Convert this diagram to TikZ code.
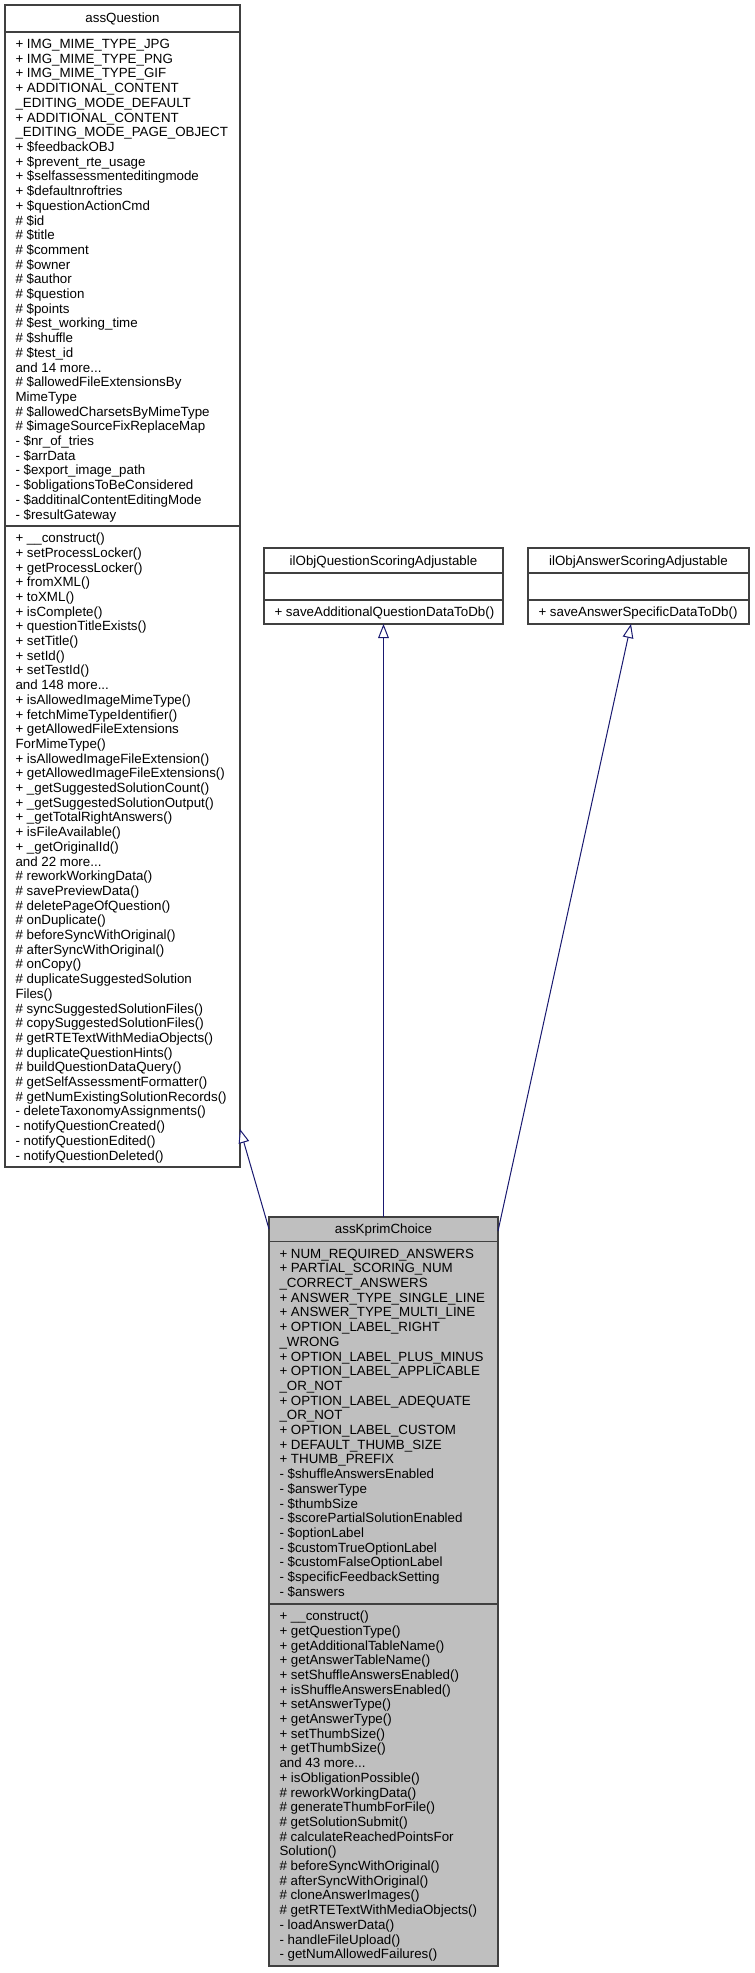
\documentclass[tikz,border=0pt]{standalone}
\usepackage{fontspec}
\setmainfont{Liberation Sans}
\usetikzlibrary{arrows.meta,calc}
\definecolor{edgeblue}{HTML}{191970}
\definecolor{boxline}{HTML}{404040}
\definecolor{kpfill}{HTML}{BFBFBF}
\newcommand\mydots{...}
\tikzset{
  umlbox/.style={draw=boxline, line width=0.8pt, inner sep=0pt, outer sep=0pt, fill=white},
  sepline/.style={draw=boxline, line width=0.8pt},
  ln/.style={anchor=base west, inner sep=0pt, outer sep=0pt, font=\fontsize{10pt}{12pt}\selectfont},
  ttl/.style={anchor=base, inner sep=0pt, outer sep=0pt, font=\fontsize{10pt}{12pt}\selectfont},
  inh/.style={draw=edgeblue, line width=0.75pt, -{Triangle[open, length=10.5pt, width=8pt, fill=white]}}
}
% #1 name, #2 x1, #3 y1, #4 x2, #5 y2, #6 extra style
\newcommand\umlrect[6]{%
  \node[umlbox, #6, minimum width={(#4-#2)*0.75pt}, minimum height={(#5-#3)*0.75pt}] (#1) at ({(#2+#4)/2},{(#3+#5)/2}) {};%
}
% #1 prefix, #2 x, #3 top y, #4 list
\newcommand\complines[4]{%
  \foreach \t [count=\i] in {#4} {
    \node[ln] (#1\i) at ({#2}, {#3+16.6+(\i-1)*14.7}) {\t};
  }%
}
\begin{document}
\begin{tikzpicture}[x=0.75pt,y=-0.75pt]
\useasboundingbox (0,0) rectangle (755,1973);
\fill[white] (0,0) rectangle (755,1973);

% ---------- assQuestion ----------
\umlrect{aq}{5}{5}{240}{1167}{}
\draw[sepline] (5,32) -- (240,32);
\draw[sepline] (5,526) -- (240,526);
\node[ttl] (aqT) at (122.5,23) {assQuestion};
\complines{aqA}{15.5}{32}{%
+ IMG\_MIME\_TYPE\_JPG,
+ IMG\_MIME\_TYPE\_PNG,
+ IMG\_MIME\_TYPE\_GIF,
+ ADDITIONAL\_CONTENT,
\_EDITING\_MODE\_DEFAULT,
+ ADDITIONAL\_CONTENT,
\_EDITING\_MODE\_PAGE\_OBJECT,
+ \$feedbackOBJ,
+ \$prevent\_rte\_usage,
+ \$selfassessmenteditingmode,
+ \$defaultnroftries,
+ \$questionActionCmd,
\# \$id,
\# \$title,
\# \$comment,
\# \$owner,
\# \$author,
\# \$question,
\# \$points,
\# \$est\_working\_time,
\# \$shuffle,
\# \$test\_id,
and 14 more\mydots,
\# \$allowedFileExtensionsBy,
MimeType,
\# \$allowedCharsetsByMimeType,
\# \$imageSourceFixReplaceMap,
- \$nr\_of\_tries,
- \$arrData,
- \$export\_image\_path,
- \$obligationsToBeConsidered,
- \$additinalContentEditingMode,
- \$resultGateway}
\complines{aqM}{15.5}{526}{%
+ \_\_construct(),
+ setProcessLocker(),
+ getProcessLocker(),
+ fromXML(),
+ toXML(),
+ isComplete(),
+ questionTitleExists(),
+ setTitle(),
+ setId(),
+ setTestId(),
and 148 more\mydots,
+ isAllowedImageMimeType(),
+ fetchMimeTypeIdentifier(),
+ getAllowedFileExtensions,
ForMimeType(),
+ isAllowedImageFileExtension(),
+ getAllowedImageFileExtensions(),
+ \_getSuggestedSolutionCount(),
+ \_getSuggestedSolutionOutput(),
+ \_getTotalRightAnswers(),
+ isFileAvailable(),
+ \_getOriginalId(),
and 22 more\mydots,
\# reworkWorkingData(),
\# savePreviewData(),
\# deletePageOfQuestion(),
\# onDuplicate(),
\# beforeSyncWithOriginal(),
\# afterSyncWithOriginal(),
\# onCopy(),
\# duplicateSuggestedSolution,
Files(),
\# syncSuggestedSolutionFiles(),
\# copySuggestedSolutionFiles(),
\# getRTETextWithMediaObjects(),
\# duplicateQuestionHints(),
\# buildQuestionDataQuery(),
\# getSelfAssessmentFormatter(),
\# getNumExistingSolutionRecords(),
- deleteTaxonomyAssignments(),
- notifyQuestionCreated(),
- notifyQuestionEdited(),
- notifyQuestionDeleted()}

% ---------- ilObjQuestionScoringAdjustable ----------
\umlrect{qsa}{264}{548}{503}{624}{}
\draw[sepline] (264,573) -- (503,573);
\draw[sepline] (264,600) -- (503,600);
\node[ttl] (qsaT) at (383.5,565) {ilObjQuestionScoringAdjustable};
\complines{qsaM}{274.5}{600}{+ saveAdditionalQuestionDataToDb()}

% ---------- ilObjAnswerScoringAdjustable ----------
\umlrect{asa}{528}{548}{749}{624}{}
\draw[sepline] (528,573) -- (749,573);
\draw[sepline] (528,600) -- (749,600);
\node[ttl] (asaT) at (638.5,565) {ilObjAnswerScoringAdjustable};
\complines{asaM}{538.5}{600}{+ saveAnswerSpecificDataToDb()}

% ---------- assKprimChoice ----------
\umlrect{kp}{269}{1217}{498}{1966}{fill=kpfill}
\draw[sepline] (269,1241.5) -- (498,1241.5);
\draw[sepline] (269,1604) -- (498,1604);
\node[ttl] (kpT) at (383.5,1233.5) {assKprimChoice};
\complines{kpA}{279.5}{1241.5}{%
+ NUM\_REQUIRED\_ANSWERS,
+ PARTIAL\_SCORING\_NUM,
\_CORRECT\_ANSWERS,
+ ANSWER\_TYPE\_SINGLE\_LINE,
+ ANSWER\_TYPE\_MULTI\_LINE,
+ OPTION\_LABEL\_RIGHT,
\_WRONG,
+ OPTION\_LABEL\_PLUS\_MINUS,
+ OPTION\_LABEL\_APPLICABLE,
\_OR\_NOT,
+ OPTION\_LABEL\_ADEQUATE,
\_OR\_NOT,
+ OPTION\_LABEL\_CUSTOM,
+ DEFAULT\_THUMB\_SIZE,
+ THUMB\_PREFIX,
- \$shuffleAnswersEnabled,
- \$answerType,
- \$thumbSize,
- \$scorePartialSolutionEnabled,
- \$optionLabel,
- \$customTrueOptionLabel,
- \$customFalseOptionLabel,
- \$specificFeedbackSetting,
- \$answers}
\complines{kpM}{279.5}{1604}{%
+ \_\_construct(),
+ getQuestionType(),
+ getAdditionalTableName(),
+ getAnswerTableName(),
+ setShuffleAnswersEnabled(),
+ isShuffleAnswersEnabled(),
+ setAnswerType(),
+ getAnswerType(),
+ setThumbSize(),
+ getThumbSize(),
and 43 more\mydots,
+ isObligationPossible(),
\# reworkWorkingData(),
\# generateThumbForFile(),
\# getSolutionSubmit(),
\# calculateReachedPointsFor,
Solution(),
\# beforeSyncWithOriginal(),
\# afterSyncWithOriginal(),
\# cloneAnswerImages(),
\# getRTETextWithMediaObjects(),
- loadAnswerData(),
- handleFileUpload(),
- getNumAllowedFailures()}

% ---------- inheritance connectors ----------
\draw[inh] ($(kp.north west)+(0,12)$) -- ($(aq.south east)+(0,-38)$);
\draw[inh] (kp.north) -- (qsa.south);
\draw[inh] ($(kp.north east)+(0,14)$) -- ($(asa.south)+(-7.5,0)$);
\end{tikzpicture}
\end{document}
